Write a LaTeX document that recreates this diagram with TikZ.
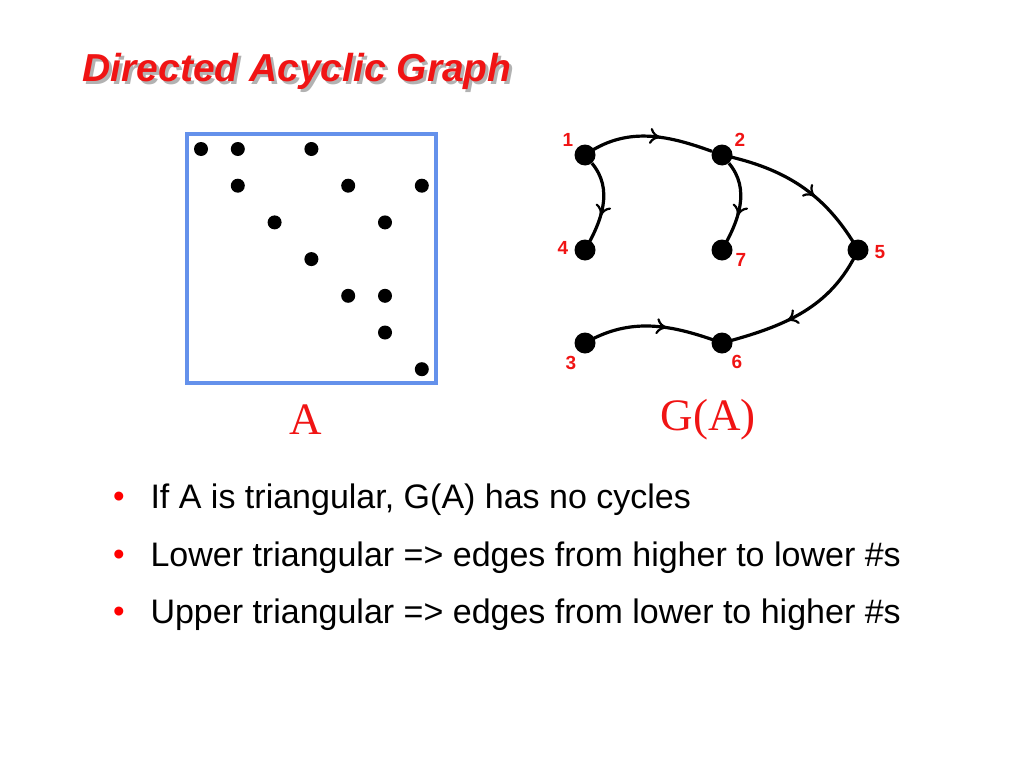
\documentclass[tikz,border=0pt]{standalone}
\usepackage{fontspec}
\setmainfont{Liberation Sans}
\newfontfamily\serifA{Liberation Serif}
\usetikzlibrary{decorations.markings,arrows.meta}
\definecolor{tred}{RGB}{240,20,20}
\definecolor{boxblue}{RGB}{100,145,235}
\begin{document}
\begin{tikzpicture}[x=1pt,y=-1pt,
  vert/.style={circle,fill=black,minimum size=21pt,inner sep=0pt},
  mdot/.style={circle,fill=black,minimum size=14pt,inner sep=0pt},
  vlab/.style={text=tred,font=\fontsize{19}{19}\selectfont\bfseries},
  edge/.style={line width=3.2pt,postaction={decorate},decoration={markings,mark=at position 0.6 with {\arrow{To[length=11pt,width=16pt,line width=2.2pt,open]}}}},
  bul/.style={anchor=west,font=\fontsize{34}{34}\selectfont}]
\useasboundingbox (0,0) rectangle (1024,768);
\node[anchor=west,text=gray!60,font=\fontsize{39}{39}\selectfont\bfseries\itshape] at (82,74) {Directed Acyclic Graph};
\node[anchor=west,text=tred,font=\fontsize{39}{39}\selectfont\bfseries\itshape] (title) at (79,71) {Directed Acyclic Graph};
\draw[boxblue,line width=3.5pt] (187,134) rectangle (436,383);
\foreach \r/\c in {1/1,1/2,1/4,2/2,2/5,2/7,3/3,3/6,4/4,5/5,5/6,6/6,7/7}
  \node[mdot] (m\r\c) at ({201+36.8*(\c-1)},{149+36.7*(\r-1)}) {};
\node[text=tred,font=\serifA\fontsize{45}{45}\selectfont] (lA) at (306,420) {A};
\node[text=tred,font=\serifA\fontsize{45}{45}\selectfont] (lG) at (708,420) {G(A)};
\node[vert] (n1) at (585,155) {};
\node[vert] (n2) at (722,155) {};
\node[vert] (n4) at (585,250) {};
\node[vert] (n7) at (722,250) {};
\node[vert] (n5) at (858,250) {};
\node[vert] (n3) at (585,343) {};
\node[vert] (n6) at (722,343) {};
\node[vlab] at (568,140) {1};
\node[vlab] at (740,140) {2};
\node[vlab] at (563,248) {4};
\node[vlab] at (741,260) {7};
\node[vlab] at (880,252) {5};
\node[vlab] at (571,363) {3};
\node[vlab] at (737,362) {6};
\draw[edge] (n1.center) to[out=35,in=160] (n2);
\draw[edge] (n1) to[out=-50,in=60] (n4.center);
\draw[edge] (n2) to[out=-50,in=60] (n7.center);
\draw[edge] (n2.center) to[out=-12,in=120] (n5.center);
\draw[edge] (n5.center) to[out=-115,in=15] (n6.center);
\draw[edge] (n3.center) to[out=30,in=160] (n6.center);
\foreach \y/\t in {500/{If A is triangular, G(A) has no cycles},558/{Lower triangular => edges from higher to lower \#s},615/{Upper triangular => edges from lower to higher \#s}}{
  \node[text=red,font=\fontsize{33}{33}\selectfont] at (119,\y) {•};
  \node[bul] at (147,\y) {\t};
}
\end{tikzpicture}
\end{document}
